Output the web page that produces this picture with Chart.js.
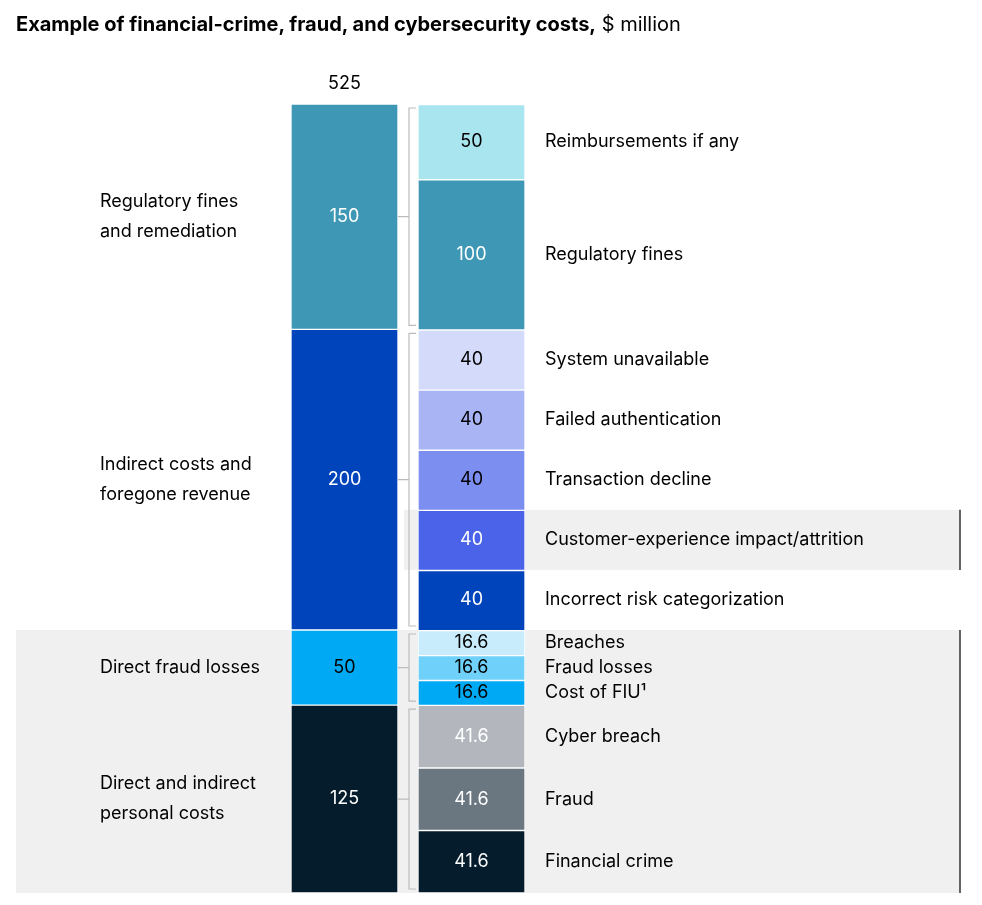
<!DOCTYPE html>
<html><head><meta charset="utf-8">
<script src="https://cdn.jsdelivr.net/npm/chart.js@4"></script>
<style>
body{margin:0;background:#fff;font-family:Inter,"Open Sans",sans-serif}
#title{position:absolute;left:16px;top:12px;font-size:20px;color:#000}
#wrap{position:relative;width:982px;height:905px}
</style></head><body>
<div id="wrap"><canvas id="c" width="982" height="905"></canvas>
<div id="title"><b>Example of financial-crime, fraud, and cybersecurity costs,</b> $ million</div></div>
<script>
const total = 525;
const groupNames = ['Direct and indirect\npersonal costs', 'Direct fraud losses', 'Indirect costs and\nforegone revenue', 'Regulatory fines\nand remediation'];
const groupValues = [125, 50, 200, 150];
const groupColors = ['#051c2c', '#00a9f4', '#0044bb', '#3e98b5'];
const partNames = ['Financial crime', 'Fraud', 'Cyber breach', 'Cost of FIU¹', 'Fraud losses', 'Breaches',
  'Incorrect risk categorization', 'Customer-experience impact/attrition', 'Transaction decline', 'Failed authentication', 'System unavailable',
  'Regulatory fines', 'Reimbursements if any'];
const partValues = [41.6, 41.6, 41.6, 16.6, 16.6, 16.6, 40, 40, 40, 40, 40, 100, 50];
const partLabels = ['41.6', '41.6', '41.6', '16.6', '16.6', '16.6', '40', '40', '40', '40', '40', '100', '50'];
const partColors = ['#051c2c', '#6a7780', '#b3b7bd', '#00a9f4', '#6fd0fa', '#c8ecfb',
  '#0044bb', '#4a63e8', '#7c8ef0', '#a8b4f4', '#d4dafa', '#3e98b5', '#a9e5ef'];
const partTextColors = ['#fff', '#fff', '#fff', '#000', '#000', '#000', '#fff', '#fff', '#000', '#000', '#000', '#fff', '#000'];
const groupTextColors = ['#fff', '#000', '#fff', '#fff'];
const groupParts = [3, 3, 5, 2];

const datasets = [];
groupValues.forEach((v, i) => datasets.push({data: [v, null], backgroundColor: groupColors[i], kind: 'g', idx: i}));
partValues.forEach((v, i) => datasets.push({data: [null, v], backgroundColor: partColors[i], kind: 'p', idx: i}));
datasets.forEach(d => { d.borderColor = '#fff'; d.borderWidth = 1; d.borderSkipped = false; d.barThickness = 107; });

const deco = {
  id: 'deco',
  beforeDraw(chart) {
    const ctx = chart.ctx, y = chart.scales.y;
    ctx.save();
    ctx.fillStyle = '#f0f0f0';
    const t = y.getPixelForValue(175);
    ctx.fillRect(16, t, 944, y.getPixelForValue(0) - t);
    const a = y.getPixelForValue(255), b = y.getPixelForValue(215);
    ctx.fillRect(404, a, 556, b - a);
    ctx.strokeStyle = '#333'; ctx.lineWidth = 1.5;
    ctx.beginPath(); ctx.moveTo(960, t); ctx.lineTo(960, y.getPixelForValue(0));
    ctx.moveTo(960, a); ctx.lineTo(960, b); ctx.stroke();
    ctx.restore();
  },
  afterDatasetsDraw(chart) {
    const ctx = chart.ctx, y = chart.scales.y;
    ctx.save();
    ctx.font = '18px Inter, sans-serif';
    ctx.textBaseline = 'middle';
    let base = 0, pi = 0;
    groupValues.forEach((v, i) => {
      const top = y.getPixelForValue(base + v), bot = y.getPixelForValue(base), mid = (top + bot) / 2;
      ctx.textAlign = 'center'; ctx.fillStyle = groupTextColors[i];
      ctx.fillText(String(v), 344.5, mid);
      ctx.textAlign = 'left'; ctx.fillStyle = '#000';
      const lines = groupNames[i].split('\n');
      lines.forEach((l, k) => ctx.fillText(l, 100, mid + (k - (lines.length - 1) / 2) * 30));
      ctx.strokeStyle = '#bbb'; ctx.lineWidth = 1.2;
      ctx.beginPath();
      ctx.moveTo(416, top + 4); ctx.lineTo(409, top + 4); ctx.lineTo(409, bot - 4); ctx.lineTo(416, bot - 4);
      ctx.moveTo(398, mid); ctx.lineTo(409, mid); ctx.stroke();
      let pb = base;
      for (let k = 0; k < groupParts[i]; k++, pi++) {
        const pv = partValues[pi];
        const pm = (y.getPixelForValue(pb) + y.getPixelForValue(pb + pv)) / 2;
        ctx.textAlign = 'center'; ctx.fillStyle = partTextColors[pi];
        ctx.fillText(partLabels[pi], 471.5, pm);
        ctx.textAlign = 'left'; ctx.fillStyle = '#000';
        ctx.fillText(partNames[pi], 545, pm);
        pb += pv;
      }
      base += v;
    });
    ctx.textAlign = 'center'; ctx.fillStyle = '#000';
    ctx.fillText(String(total), 344.5, y.getPixelForValue(total) - 20);
    ctx.restore();
  }
};

new Chart(document.getElementById('c'), {
  type: 'bar',
  data: {labels: ['total', 'detail'], datasets},
  options: {
    responsive: false, animation: false,
    layout: {padding: {top: 104, bottom: 12, left: 281, right: 447}},
    scales: {
      x: {stacked: true, display: false},
      y: {stacked: true, display: false, min: 0, max: total}
    },
    plugins: {legend: {display: false}, tooltip: {enabled: false}}
  },
  plugins: [deco]
});
</script></body></html>
